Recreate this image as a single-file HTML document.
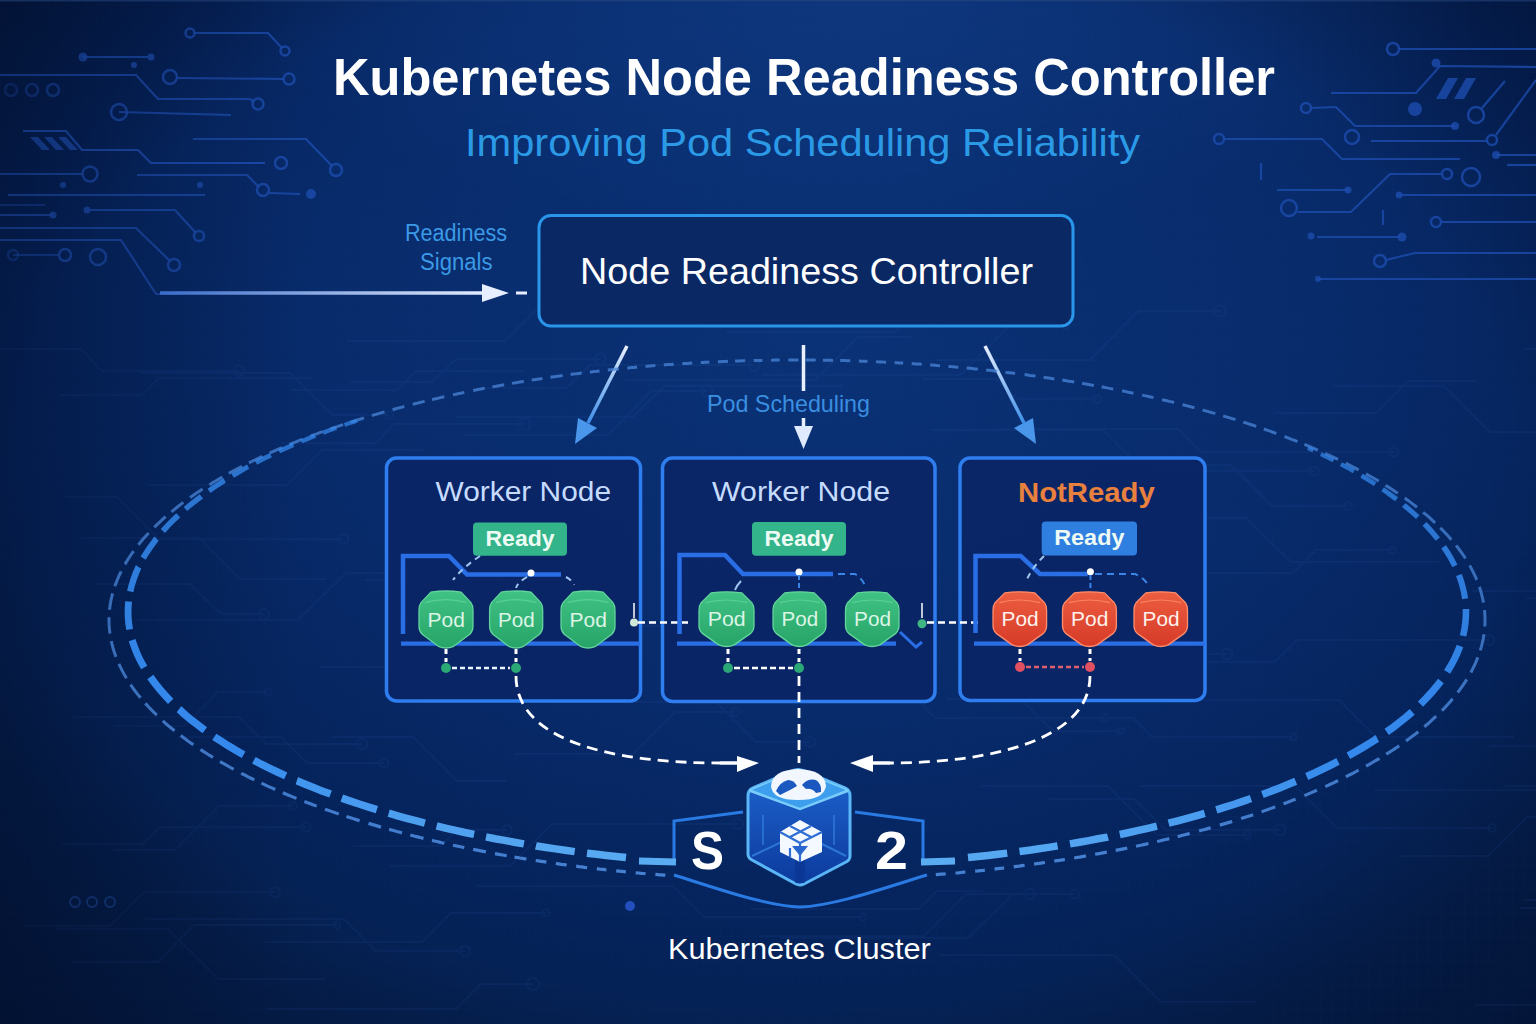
<!DOCTYPE html>
<html><head><meta charset="utf-8"><title>Kubernetes Node Readiness Controller</title>
<style>html,body{margin:0;padding:0;background:#02143a;overflow:hidden}svg{display:block}</style>
</head><body>
<svg width="1536" height="1024" viewBox="0 0 1536 1024"><defs>
<radialGradient id="bg" cx="0" cy="0" r="1" gradientUnits="userSpaceOnUse" gradientTransform="translate(820 330) scale(1000 760)">
  <stop offset="0" stop-color="#0a3276"/>
  <stop offset="0.5" stop-color="#082b6b"/>
  <stop offset="0.8" stop-color="#05235b"/>
  <stop offset="1" stop-color="#05204f"/>
</radialGradient>
<radialGradient id="vig" cx="0" cy="0" r="1" gradientUnits="userSpaceOnUse" gradientTransform="translate(768 480) scale(1150 820)">
  <stop offset="0.65" stop-color="#010a23" stop-opacity="0"/>
  <stop offset="0.85" stop-color="#010a23" stop-opacity="0.38"/>
  <stop offset="1" stop-color="#010a23" stop-opacity="0.6"/>
</radialGradient>
<linearGradient id="leftdark" x1="0" y1="0" x2="300" y2="0" gradientUnits="userSpaceOnUse">
  <stop offset="0" stop-color="#010a23" stop-opacity="0.3"/>
  <stop offset="1" stop-color="#010a23" stop-opacity="0"/>
</linearGradient>
<radialGradient id="topglow" cx="0" cy="0" r="1" gradientUnits="userSpaceOnUse" gradientTransform="translate(860 0) scale(620 230)">
  <stop offset="0" stop-color="#1f56b0" stop-opacity="0.25"/>
  <stop offset="1" stop-color="#1f56b0" stop-opacity="0"/>
</radialGradient>
<linearGradient id="arrowL" x1="0" y1="0" x2="0" y2="1">
  <stop offset="0" stop-color="#e8f0ff"/><stop offset="1" stop-color="#3d8ee8"/>
</linearGradient>
<linearGradient id="podG" x1="0" y1="0" x2="0" y2="1">
  <stop offset="0" stop-color="#40c284"/><stop offset="1" stop-color="#27a468"/>
</linearGradient>
<linearGradient id="podR" x1="0" y1="0" x2="0" y2="1">
  <stop offset="0" stop-color="#ec5e40"/><stop offset="1" stop-color="#d63a28"/>
</linearGradient>
<linearGradient id="sig" x1="160" y1="0" x2="490" y2="0" gradientUnits="userSpaceOnUse">
  <stop offset="0" stop-color="#3a6cc8"/><stop offset="1" stop-color="#e6eeff"/>
</linearGradient>
<linearGradient id="cubeG" x1="0" y1="0" x2="0" y2="1">
  <stop offset="0" stop-color="#1e64d0"/><stop offset="1" stop-color="#0c3a9c"/>
</linearGradient>
<filter id="glow" x="-20%" y="-20%" width="140%" height="140%"><feGaussianBlur stdDeviation="2.5"/></filter>
</defs>
<rect width="1536" height="1024" fill="url(#bg)"/>
<rect width="1536" height="1024" fill="url(#vig)"/>
<rect width="1536" height="260" fill="url(#topglow)"/>
<g fill="none" stroke="#3a70d0" stroke-width="2" opacity="0.08"><path d="M464,435 L608,435 L651,391 L707,391"/><circle cx="707" cy="391" r="5.7"/><path d="M291,390 L397,390 L416,371 L524,371"/><path d="M146,485 L287,485 L322,450 L425,450"/><path d="M24,926 L110,926 L144,892 L275,892"/><circle cx="275" cy="892" r="5.0"/><path d="M113,726 L184,726 L218,692 L268,692"/><circle cx="268" cy="692" r="3.6"/><path d="M1029,627 L1119,627 L1147,654 L1227,654"/><circle cx="1227" cy="654" r="5.3"/><path d="M80,538 L199,538 L240,579 L326,579"/><path d="M137,620 L298,620 L346,573 L454,573"/><path d="M73,717 L239,717 L266,744 L362,744"/><circle cx="362" cy="744" r="5.4"/><path d="M59,395 L142,395 L159,378 L312,378"/><path d="M1525,900 L1611,900 L1657,946 L1752,946"/><path d="M514,754 L633,754 L675,712 L735,712"/><circle cx="735" cy="712" r="4.2"/><path d="M1332,386 L1444,386 L1490,432 L1661,432"/><path d="M392,618 L489,618 L537,667 L602,667"/><circle cx="602" cy="667" r="3.7"/><path d="M320,667 L454,667 L479,691 L543,691"/><circle cx="543" cy="691" r="4.8"/><path d="M455,417 L633,417 L664,386 L843,386"/><path d="M1029,718 L1133,718 L1152,737 L1293,737"/><circle cx="1293" cy="737" r="3.2"/><path d="M281,443 L376,443 L394,424 L525,424"/><circle cx="525" cy="424" r="5.8"/><path d="M923,379 L997,379 L1017,399 L1097,399"/><circle cx="1097" cy="399" r="4.1"/><path d="M145,919 L344,919 L376,951 L465,951"/><circle cx="465" cy="951" r="5.2"/><path d="M1124,662 L1275,662 L1297,640 L1489,640"/><circle cx="1489" cy="640" r="5.1"/><path d="M1400,856 L1488,856 L1527,817 L1609,817"/><circle cx="1609" cy="817" r="3.5"/><path d="M1174,700 L1339,700 L1376,737 L1514,737"/><path d="M1153,465 L1231,465 L1272,506 L1348,506"/><circle cx="1348" cy="506" r="4.1"/><path d="M-4,349 L81,349 L102,371 L239,371"/><circle cx="239" cy="371" r="5.4"/><path d="M1097,573 L1293,573 L1316,550 L1392,550"/><circle cx="1392" cy="550" r="3.6"/><path d="M940,955 L1114,955 L1161,1002 L1256,1002"/><path d="M1274,413 L1376,413 L1408,381 L1476,381"/><path d="M477,886 L673,886 L704,917 L863,917"/><circle cx="863" cy="917" r="3.5"/><path d="M1525,349 L1660,349 L1703,392 L1766,392"/><path d="M1505,786 L1601,786 L1617,770 L1784,770"/><path d="M113,850 L175,850 L219,806 L293,806"/><circle cx="293" cy="806" r="3.9"/><path d="M331,737 L413,737 L457,781 L507,781"/><path d="M1374,790 L1544,790 L1588,834 L1769,834"/><circle cx="1769" cy="834" r="3.5"/><path d="M760,936 L924,936 L966,894 L1030,894"/><circle cx="1030" cy="894" r="4.9"/><path d="M141,373 L290,373 L332,415 L389,415"/><circle cx="389" cy="415" r="3.7"/><path d="M389,866 L510,866 L552,824 L738,824"/><circle cx="738" cy="824" r="4.8"/><path d="M752,685 L903,685 L935,718 L1105,718"/><circle cx="1105" cy="718" r="3.7"/><path d="M780,938 L968,938 L1013,894 L1075,894"/><circle cx="1075" cy="894" r="4.3"/><path d="M65,497 L117,497 L159,539 L343,539"/><circle cx="343" cy="539" r="5.1"/><path d="M997,429 L1178,429 L1201,452 L1394,452"/><circle cx="1394" cy="452" r="4.5"/><path d="M1520,908 L1586,908 L1636,958 L1740,958"/><circle cx="1740" cy="958" r="4.1"/><path d="M96,584 L190,584 L221,614 L264,614"/><circle cx="264" cy="614" r="4.9"/><path d="M762,375 L960,375 L1009,326 L1066,326"/><circle cx="1066" cy="326" r="3.1"/><path d="M1185,518 L1246,518 L1291,562 L1439,562"/><path d="M594,702 L716,702 L756,742 L810,742"/><circle cx="810" cy="742" r="5.1"/><path d="M625,380 L815,380 L858,337 L911,337"/><path d="M56,929 L168,929 L218,979 L325,979"/><path d="M936,360 L1090,360 L1138,311 L1220,311"/><circle cx="1220" cy="311" r="5.8"/><path d="M947,699 L1020,699 L1053,731 L1121,731"/><circle cx="1121" cy="731" r="3.1"/><path d="M347,341 L505,341 L538,308 L617,308"/><circle cx="617" cy="308" r="5.0"/><path d="M981,786 L1108,786 L1157,835 L1247,835"/><circle cx="1247" cy="835" r="3.7"/><path d="M265,942 L422,942 L451,913 L546,913"/><circle cx="546" cy="913" r="3.4"/><path d="M62,844 L143,844 L160,827 L306,827"/><circle cx="306" cy="827" r="4.5"/><path d="M1490,746 L1641,746 L1672,714 L1737,714"/><circle cx="1737" cy="714" r="3.8"/><path d="M1475,1005 L1603,1005 L1619,989 L1800,989"/><circle cx="1800" cy="989" r="3.5"/><path d="M482,388 L566,388 L590,365 L754,365"/><circle cx="754" cy="365" r="5.5"/><path d="M178,737 L281,737 L307,763 L384,763"/><circle cx="384" cy="763" r="4.6"/><path d="M1140,786 L1295,786 L1337,828 L1492,828"/><circle cx="1492" cy="828" r="3.9"/><path d="M931,430 L1103,430 L1144,471 L1314,471"/><circle cx="1314" cy="471" r="4.6"/><path d="M750,909 L919,909 L937,891 L983,891"/><path d="M1472,591 L1584,591 L1621,554 L1761,554"/><path d="M726,332 L894,332 L932,294 L982,294"/><path d="M350,382 L432,382 L456,359 L600,359"/><circle cx="600" cy="359" r="5.5"/><path d="M72,962 L158,962 L194,925 L337,925"/><circle cx="337" cy="925" r="3.4"/><path d="M353,846 L441,846 L457,830 L507,830"/><circle cx="507" cy="830" r="5.0"/><path d="M1048,799 L1134,799 L1166,830 L1280,830"/><circle cx="1280" cy="830" r="5.7"/><path d="M266,1009 L456,1009 L481,984 L533,984"/><circle cx="533" cy="984" r="6.0"/><path d="M1526,598 L1713,598 L1731,581 L1785,581"/><path d="M365,580 L502,580 L548,626 L700,626"/><circle cx="700" cy="626" r="5.7"/></g>
<defs><pattern id="grid" width="12" height="12" patternUnits="userSpaceOnUse"><path d="M12,0 L0,0 L0,12" fill="none" stroke="#4a80e0" stroke-width="0.6"/></pattern></defs>
<rect width="1536" height="1024" fill="url(#grid)" opacity="0.05"/>
<path d="M194,33 L268,33 L282,48" fill="none" stroke="#1d4cae" stroke-width="2.2" opacity="0.8"/>
<circle cx="190" cy="33" r="4.5" fill="none" stroke="#1d4cae" stroke-width="2.5" opacity="0.8"/>
<circle cx="285" cy="51" r="4.5" fill="none" stroke="#1d4cae" stroke-width="2.5" opacity="0.8"/>
<path d="M83,57 L148,57" fill="none" stroke="#1d4cae" stroke-width="2.2" opacity="0.8"/>
<circle cx="83" cy="57" r="4.5" fill="#1d4cae" opacity="0.8"/>
<circle cx="151" cy="57" r="3.5" fill="#1d4cae" opacity="0.8"/>
<path d="M0,75 L136,75 L158,99 L250,99 L254,102" fill="none" stroke="#1d4cae" stroke-width="2.2" opacity="0.8"/>
<circle cx="258" cy="104" r="5.5" fill="none" stroke="#1d4cae" stroke-width="2.5" opacity="0.8"/>
<path d="M176,78 L284,79" fill="none" stroke="#1d4cae" stroke-width="2.2" opacity="0.8"/>
<circle cx="170" cy="77" r="7" fill="none" stroke="#1d4cae" stroke-width="2.5" opacity="0.8"/>
<circle cx="289" cy="79" r="5.5" fill="none" stroke="#1d4cae" stroke-width="2.5" opacity="0.8"/>
<circle cx="11" cy="90" r="6" fill="none" stroke="#1d4cae" stroke-width="2.5" opacity="0.4"/>
<circle cx="32" cy="90" r="6" fill="none" stroke="#1d4cae" stroke-width="2.5" opacity="0.5"/>
<circle cx="53" cy="90" r="6" fill="none" stroke="#1d4cae" stroke-width="2.5" opacity="0.6"/>
<path d="M119,112 L231,115" fill="none" stroke="#1d4cae" stroke-width="2.2" opacity="0.8"/>
<circle cx="119" cy="112" r="8" fill="none" stroke="#1d4cae" stroke-width="2.5" opacity="0.8"/>
<path d="M23,131 L66,131 L82,150 L138,150 L151,163 L265,163" fill="none" stroke="#1d4cae" stroke-width="2.2" opacity="0.9"/>
<circle cx="281" cy="163" r="6" fill="none" stroke="#1d4cae" stroke-width="2.5" opacity="0.8"/>
<path d="M193,139 L306,139 L332,166" fill="none" stroke="#1d4cae" stroke-width="2.2" opacity="0.8"/>
<circle cx="336" cy="170" r="6" fill="none" stroke="#1d4cae" stroke-width="2.5" opacity="0.8"/>
<path d="M30,137 L38,137 L50,150 L42,150 Z" fill="#1d4cae" opacity="0.8"/>
<path d="M44,137 L52,137 L64,150 L56,150 Z" fill="#1d4cae" opacity="0.8"/>
<path d="M58,137 L66,137 L78,150 L70,150 Z" fill="#1d4cae" opacity="0.8"/>
<path d="M0,174 L82,174" fill="none" stroke="#1d4cae" stroke-width="2.2" opacity="0.8"/>
<circle cx="90" cy="174" r="7.5" fill="none" stroke="#1d4cae" stroke-width="2.5" opacity="0.8"/>
<path d="M137,175 L247,175 L259,187" fill="none" stroke="#1d4cae" stroke-width="2.2" opacity="0.8"/>
<circle cx="263" cy="190" r="6" fill="none" stroke="#1d4cae" stroke-width="2.5" opacity="0.8"/>
<path d="M269,193 L300,194" fill="none" stroke="#1d4cae" stroke-width="2.2" opacity="0.8"/>
<circle cx="311" cy="194" r="5" fill="#1d4cae" opacity="0.8"/>
<path d="M8,195 L205,195" fill="none" stroke="#1d4cae" stroke-width="2.2" opacity="0.8"/>
<path d="M0,205 L45,205" fill="none" stroke="#1d4cae" stroke-width="2.2" opacity="0.5"/>
<path d="M0,215 L53,215" fill="none" stroke="#1d4cae" stroke-width="2.2" opacity="0.8"/>
<circle cx="53" cy="215" r="3.5" fill="#1d4cae" opacity="0.8"/>
<path d="M87,210 L175,210 L196,233" fill="none" stroke="#1d4cae" stroke-width="2.2" opacity="0.8"/>
<circle cx="87" cy="210" r="3.5" fill="#1d4cae" opacity="0.8"/>
<circle cx="199" cy="236" r="5" fill="none" stroke="#1d4cae" stroke-width="2.5" opacity="0.8"/>
<path d="M0,228 L136,228 L170,261" fill="none" stroke="#1d4cae" stroke-width="2.2" opacity="0.8"/>
<circle cx="174" cy="265" r="6" fill="none" stroke="#1d4cae" stroke-width="2.5" opacity="0.8"/>
<path d="M0,240 L121,240 L156,294 L180,294" fill="none" stroke="#1d4cae" stroke-width="2.2" opacity="0.8"/>
<path d="M13,255 L59,255" fill="none" stroke="#1d4cae" stroke-width="2.2" opacity="0.6"/>
<circle cx="13" cy="255" r="5" fill="none" stroke="#1d4cae" stroke-width="2.5" opacity="0.5"/>
<circle cx="65" cy="255" r="6" fill="none" stroke="#1d4cae" stroke-width="2.5" opacity="0.8"/>
<circle cx="98" cy="257" r="8" fill="none" stroke="#1d4cae" stroke-width="2.5" opacity="0.8"/>
<circle cx="200" cy="185" r="3" fill="#1d4cae" opacity="0.8"/>
<circle cx="63" cy="185" r="3" fill="#1d4cae" opacity="0.8"/>
<circle cx="134" cy="65" r="3" fill="#1d4cae" opacity="0.8"/>
<path d="M1399,49 L1536,49" fill="none" stroke="#1d4cae" stroke-width="2.2" opacity="0.8"/>
<circle cx="1393" cy="49" r="6" fill="none" stroke="#1d4cae" stroke-width="2.5" opacity="0.8"/>
<path d="M1331,93 L1416,93 L1440,66 L1536,67" fill="none" stroke="#1d4cae" stroke-width="2.2" opacity="0.8"/>
<circle cx="1436" cy="63" r="4.5" fill="#1d4cae" opacity="0.8"/>
<path d="M1448,78 L1458,78 L1446,99 L1436,99 Z" fill="#1d4cae" opacity="0.8"/>
<path d="M1466,78 L1476,78 L1464,99 L1454,99 Z" fill="#1d4cae" opacity="0.8"/>
<circle cx="1415" cy="109" r="7" fill="#1d4cae" opacity="0.8"/>
<circle cx="1476" cy="115" r="8" fill="none" stroke="#1d4cae" stroke-width="2.5" opacity="0.8"/>
<path d="M1482,108 L1505,81" fill="none" stroke="#1d4cae" stroke-width="2.2" opacity="0.8"/>
<path d="M1311,108 L1336,107 L1355,126 L1455,126" fill="none" stroke="#1d4cae" stroke-width="2.2" opacity="0.8"/>
<circle cx="1306" cy="108" r="5" fill="none" stroke="#1d4cae" stroke-width="2.5" opacity="0.8"/>
<circle cx="1455" cy="126" r="4" fill="#1d4cae" opacity="0.8"/>
<circle cx="1352" cy="137" r="7" fill="none" stroke="#1d4cae" stroke-width="2.5" opacity="0.8"/>
<path d="M1371,141 L1487,141" fill="none" stroke="#1d4cae" stroke-width="2.2" opacity="0.8"/>
<circle cx="1492" cy="140" r="5" fill="none" stroke="#1d4cae" stroke-width="2.5" opacity="0.8"/>
<path d="M1496,135 L1536,80" fill="none" stroke="#1d4cae" stroke-width="2.2" opacity="0.8"/>
<path d="M1224,139 L1322,139 L1342,159 L1460,159" fill="none" stroke="#1d4cae" stroke-width="2.2" opacity="0.8"/>
<circle cx="1219" cy="139" r="5" fill="none" stroke="#1d4cae" stroke-width="2.5" opacity="0.8"/>
<path d="M1261,163 L1261,180" fill="none" stroke="#1d4cae" stroke-width="2.2" opacity="0.8"/>
<circle cx="1471" cy="177" r="9" fill="none" stroke="#1d4cae" stroke-width="2.5" opacity="0.8"/>
<path d="M1496,155 L1536,155" fill="none" stroke="#1d4cae" stroke-width="2.2" opacity="0.8"/>
<circle cx="1496" cy="155" r="4" fill="#1d4cae" opacity="0.8"/>
<path d="M1277,190 L1348,190" fill="none" stroke="#1d4cae" stroke-width="2.2" opacity="0.8"/>
<circle cx="1348" cy="190" r="3.5" fill="#1d4cae" opacity="0.8"/>
<path d="M1298,212 L1351,212 L1390,174 L1441,174" fill="none" stroke="#1d4cae" stroke-width="2.2" opacity="0.8"/>
<circle cx="1289" cy="208" r="8" fill="none" stroke="#1d4cae" stroke-width="2.5" opacity="0.8"/>
<circle cx="1447" cy="174" r="5" fill="none" stroke="#1d4cae" stroke-width="2.5" opacity="0.8"/>
<path d="M1399,195 L1536,195" fill="none" stroke="#1d4cae" stroke-width="2.2" opacity="0.8"/>
<circle cx="1399" cy="195" r="3.5" fill="#1d4cae" opacity="0.8"/>
<path d="M1383,210 L1383,225" fill="none" stroke="#1d4cae" stroke-width="2.2" opacity="0.8"/>
<path d="M1441,222 L1536,222" fill="none" stroke="#1d4cae" stroke-width="2.2" opacity="0.8"/>
<circle cx="1436" cy="222" r="5" fill="none" stroke="#1d4cae" stroke-width="2.5" opacity="0.8"/>
<path d="M1317,237 L1400,237" fill="none" stroke="#1d4cae" stroke-width="2.2" opacity="0.8"/>
<circle cx="1311" cy="236" r="3.5" fill="#1d4cae" opacity="0.8"/>
<circle cx="1402" cy="237" r="4.5" fill="#1d4cae" opacity="0.8"/>
<path d="M1386,260 L1415,253 L1536,253" fill="none" stroke="#1d4cae" stroke-width="2.2" opacity="0.8"/>
<circle cx="1380" cy="261" r="6" fill="none" stroke="#1d4cae" stroke-width="2.5" opacity="0.8"/>
<path d="M1318,279 L1536,279" fill="none" stroke="#1d4cae" stroke-width="2.2" opacity="0.8"/>
<circle cx="1318" cy="279" r="3" fill="#1d4cae" opacity="0.8"/>
<path d="M1507,165 L1536,165" fill="none" stroke="#1d4cae" stroke-width="2.2" opacity="0.8"/>
<rect width="300" height="1024" fill="url(#leftdark)"/>
<rect x="0" y="0" width="1536" height="1.5" fill="#2a4a80" opacity="0.5"/>
<circle cx="630" cy="906" r="5" fill="#2a5ad8" opacity="0.8"/>
<g fill="none" stroke="#2a58b8" stroke-width="2" opacity="0.35"><circle cx="75" cy="902" r="5"/><circle cx="92" cy="902" r="5"/><circle cx="110" cy="902" r="5"/></g>
<g style='font-family:"Liberation Sans",sans-serif'>
<text x="333" y="95" font-size="52" font-weight="bold" fill="#ffffff" textLength="942" lengthAdjust="spacingAndGlyphs" >Kubernetes Node Readiness Controller</text>
<text x="465" y="156" font-size="39" font-weight="normal" fill="#2b9ae6" textLength="675" lengthAdjust="spacingAndGlyphs" >Improving Pod Scheduling Reliability</text>
<text x="405" y="240.6" font-size="23" font-weight="normal" fill="#3b9ae6" textLength="102" lengthAdjust="spacingAndGlyphs" >Readiness</text>
<text x="420" y="269.8" font-size="23" font-weight="normal" fill="#3b9ae6" textLength="72.5" lengthAdjust="spacingAndGlyphs" >Signals</text>
</g>
<path d="M160,293 L488,293" stroke="url(#sig)" stroke-width="3.5" fill="none"/>
<path d="M482,284 L509,293 L482,302 Z" fill="#e6eeff"/>
<path d="M516,293 L527,293" stroke="#e6eeff" stroke-width="3"/>
<rect x="539" y="215.5" width="534" height="110.5" rx="12" fill="#0a2864" stroke="#2a96ea" stroke-width="3"/>
<g style='font-family:"Liberation Sans",sans-serif'>
<text x="580" y="284.4" font-size="37" font-weight="normal" fill="#ffffff" textLength="453" lengthAdjust="spacingAndGlyphs" >Node Readiness Controller</text>
<text x="707" y="411.6" font-size="24" font-weight="normal" fill="#3a8ee0" textLength="163" lengthAdjust="spacingAndGlyphs" >Pod Scheduling</text>
</g>
<path d="M627,346 L588,423" stroke="url(#arrowL)" stroke-width="3.5" fill="none"/>
<path d="M575,444 L578,418 L597,428 Z" fill="#4a96ea"/>
<path d="M985,346 L1024,423" stroke="url(#arrowL)" stroke-width="3.5" fill="none"/>
<path d="M1036,444 L1014,428 L1033,418 Z" fill="#4a96ea"/>
<path d="M803.5,345 L803.5,391" stroke="#e8f0ff" stroke-width="3.5"/>
<path d="M803.5,418 L803.5,428" stroke="#e8f0ff" stroke-width="3.5"/>
<path d="M794,426 L813,426 L803.5,449 Z" fill="#dfeaff"/>
<path d="M797.0,360.0 L795.6,360.0 L794.1,360.0 L792.7,360.0 L791.2,360.0 L789.8,360.0 L788.4,360.0 L788.4,360.0" fill="none" stroke="#4a86d8" stroke-width="3.0" opacity="0.75"/>
<path d="M779.7,360.1 L778.3,360.1 L776.8,360.1 L775.4,360.1 L773.9,360.1 L772.5,360.2 L771.1,360.2 L771.1,360.2" fill="none" stroke="#4a86d8" stroke-width="3.0" opacity="0.75"/>
<path d="M762.4,360.3 L761.0,360.4 L759.6,360.4 L758.1,360.4 L756.7,360.4 L755.2,360.5 L753.8,360.5 L753.8,360.5" fill="none" stroke="#4a86d8" stroke-width="3.0" opacity="0.75"/>
<path d="M745.2,360.7 L742.3,360.8 L739.4,360.9 L736.6,361.0 L735.1,361.1" fill="none" stroke="#4a86d8" stroke-width="3.0" opacity="0.75"/>
<path d="M728.0,361.3 L725.1,361.4 L722.2,361.5 L719.4,361.7 L717.9,361.7" fill="none" stroke="#4a86d8" stroke-width="3.0" opacity="0.75"/>
<path d="M709.3,362.1 L707.9,362.2 L706.5,362.3 L705.1,362.3 L703.6,362.4 L702.2,362.5 L700.8,362.6 L700.8,362.6" fill="none" stroke="#4a86d8" stroke-width="3.0" opacity="0.75"/>
<path d="M692.2,363.0 L689.4,363.2 L686.5,363.4 L683.7,363.6 L682.3,363.6" fill="none" stroke="#4a86d8" stroke-width="3.0" opacity="0.75"/>
<path d="M673.7,364.2 L670.9,364.4 L668.1,364.6 L665.3,364.8 L663.8,364.9" fill="none" stroke="#4a86d8" stroke-width="3.0" opacity="0.75"/>
<path d="M655.4,365.6 L652.5,365.8 L649.7,366.0 L646.9,366.3 L645.5,366.4" fill="none" stroke="#4a86d8" stroke-width="3.0" opacity="0.75"/>
<path d="M637.1,367.1 L634.3,367.4 L631.5,367.6 L628.7,367.9 L627.3,368.0" fill="none" stroke="#4a86d8" stroke-width="3.0" opacity="0.75"/>
<path d="M618.9,368.9 L616.2,369.1 L613.4,369.4 L610.6,369.7 L607.8,370.0 L607.8,370.0" fill="none" stroke="#4a86d8" stroke-width="3.0" opacity="0.75"/>
<path d="M599.5,370.9 L596.8,371.3 L594.0,371.6 L591.3,371.9 L589.9,372.1" fill="none" stroke="#4a86d8" stroke-width="3.0" opacity="0.75"/>
<path d="M581.7,373.1 L578.9,373.4 L576.2,373.8 L573.5,374.1 L570.7,374.5 L570.7,374.5" fill="none" stroke="#4a86d8" stroke-width="3.0" opacity="0.75"/>
<path d="M562.6,375.6 L559.9,375.9 L557.2,376.3 L554.5,376.7 L551.8,377.1 L550.4,377.3" fill="none" stroke="#4a86d8" stroke-width="3.0" opacity="0.75"/>
<path d="M542.4,378.5 L539.7,378.9 L537.0,379.3 L534.4,379.7 L531.7,380.1 L531.7,380.1" fill="none" stroke="#4a86d8" stroke-width="3.0" opacity="0.75"/>
<path d="M523.8,381.4 L521.1,381.8 L518.5,382.3 L515.8,382.7 L513.2,383.1 L511.9,383.4" fill="none" stroke="#4a86d8" stroke-width="3.0" opacity="0.75"/>
<path d="M504.1,384.7 L501.5,385.2 L498.9,385.7 L496.3,386.2 L493.7,386.6 L492.4,386.9" fill="none" stroke="#4a86d8" stroke-width="3.0" opacity="0.75"/>
<path d="M484.7,388.3 L482.1,388.8 L479.5,389.3 L477.0,389.8 L474.4,390.3 L473.2,390.6" fill="none" stroke="#4a86d8" stroke-width="3.0" opacity="0.75"/>
<path d="M464.3,392.4 L461.8,393.0 L459.3,393.5 L456.8,394.0 L454.2,394.6 L453.0,394.8" fill="none" stroke="#4a86d8" stroke-width="3.0" opacity="0.75"/>
<path d="M444.3,396.8 L441.8,397.3 L439.4,397.9 L436.9,398.5 L434.5,399.0 L432.0,399.6 L432.0,399.6" fill="none" stroke="#4a86d8" stroke-width="3.0" opacity="0.75"/>
<path d="M424.7,401.4 L422.3,401.9 L419.9,402.5 L417.5,403.1 L415.1,403.7 L412.7,404.3 L412.7,404.3" fill="none" stroke="#4a86d8" stroke-width="3.0" opacity="0.75"/>
<path d="M404.3,406.5 L402.0,407.1 L399.6,407.8 L397.3,408.4 L394.9,409.0 L392.6,409.7 L392.6,409.7" fill="none" stroke="#4a86d8" stroke-width="3.0" opacity="0.75"/>
<path d="M384.5,411.9 L381.0,412.9 L377.6,413.9 L374.2,414.9 L371.9,415.6" fill="none" stroke="#4a86d8" stroke-width="3.0" opacity="0.75"/>
<path d="M364.0,417.9 L360.7,419.0 L357.3,420.0 L354.0,421.1 L350.7,422.1 L350.7,422.1" fill="none" stroke="#4a86d8" stroke-width="3.0" opacity="0.75"/>
<path d="M343.1,424.6 L339.9,425.7 L336.6,426.8 L333.4,427.9 L330.2,429.0 L330.2,429.0" fill="none" stroke="#4a86d8" stroke-width="3.0" opacity="0.75"/>
<path d="M322.9,431.6 L319.8,432.7 L316.7,433.9 L313.6,435.0 L310.5,436.2 L310.5,436.2" fill="none" stroke="#4a86d8" stroke-width="3.0" opacity="0.75"/>
<path d="M302.4,439.3 L299.4,440.4 L296.5,441.6 L293.5,442.8 L290.6,444.0 L289.6,444.4" fill="none" stroke="#4a86d8" stroke-width="3.0" opacity="0.75"/>
<path d="M281.9,447.7 L279.0,448.9 L276.2,450.1 L273.4,451.4 L270.6,452.6 L269.7,453.0" fill="none" stroke="#4a86d8" stroke-width="3.0" opacity="0.75"/>
<path d="M262.3,456.4 L258.7,458.1 L255.1,459.8 L251.6,461.5 L249.0,462.8" fill="none" stroke="#4a86d8" stroke-width="3.0" opacity="0.75"/>
<path d="M242.1,466.3 L238.7,468.1 L235.4,469.8 L232.0,471.6 L228.8,473.4 L228.8,473.4" fill="none" stroke="#4a86d8" stroke-width="3.0" opacity="0.75"/>
<path d="M222.4,477.0 L219.2,478.9 L216.1,480.7 L213.0,482.5 L210.0,484.4 L209.3,484.8" fill="none" stroke="#4a86d8" stroke-width="3.0" opacity="0.75"/>
<path d="M202.6,489.1 L199.7,490.9 L196.9,492.8 L194.1,494.7 L191.3,496.7 L190.0,497.6" fill="none" stroke="#4a86d8" stroke-width="3.0" opacity="0.75"/>
<path d="M183.3,502.4 L180.1,504.9 L177.0,507.3 L173.9,509.8 L171.4,511.8" fill="none" stroke="#4a86d8" stroke-width="3.0" opacity="0.75"/>
<path d="M165.6,516.7 L162.8,519.2 L160.0,521.8 L157.3,524.3 L154.7,526.8 L154.2,527.3" fill="none" stroke="#4a86d8" stroke-width="3.0" opacity="0.75"/>
<path d="M148.7,533.0 L145.9,536.0 L143.1,539.1 L140.5,542.2 L138.4,544.9" fill="none" stroke="#4a86d8" stroke-width="3.0" opacity="0.75"/>
<path d="M133.6,551.1 L131.3,554.3 L129.2,557.5 L127.2,560.6 L125.3,563.8 L124.9,564.3" fill="none" stroke="#4a86d8" stroke-width="3.0" opacity="0.75"/>
<path d="M121.2,571.3 L119.4,575.0 L117.7,578.8 L116.2,582.6 L114.8,586.3 L114.8,586.3" fill="none" stroke="#4a86d8" stroke-width="3.0" opacity="0.75"/>
<path d="M112.6,593.4 L111.7,597.2 L110.8,601.0 L110.2,604.8 L109.7,608.6 L109.5,609.7" fill="none" stroke="#4a86d8" stroke-width="3.0" opacity="0.75"/>
<path d="M109.0,617.3 L109.0,621.1 L109.1,624.9 L109.4,628.7 L109.8,632.5 L109.9,633.6" fill="none" stroke="#4a86d8" stroke-width="3.0" opacity="0.75"/>
<path d="M111.3,641.2 L112.2,645.0 L113.2,648.8 L114.4,652.6 L115.8,656.4 L116.0,656.9" fill="none" stroke="#4a86d8" stroke-width="3.0" opacity="0.77"/>
<path d="M118.9,663.9 L120.7,667.6 L122.6,671.4 L124.6,675.1 L126.5,678.3" fill="none" stroke="#4a86d8" stroke-width="3.0" opacity="0.78"/>
<path d="M130.6,684.7 L132.8,687.8 L135.1,691.0 L137.5,694.1 L140.1,697.2 L140.5,697.8" fill="none" stroke="#4a86d8" stroke-width="3.0" opacity="0.80"/>
<path d="M145.4,703.4 L148.2,706.5 L151.2,709.6 L154.2,712.7 L156.8,715.2" fill="none" stroke="#4a86d8" stroke-width="3.1" opacity="0.81"/>
<path d="M162.8,720.8 L165.6,723.3 L168.5,725.8 L171.4,728.2 L174.5,730.7 L174.5,730.7" fill="none" stroke="#4a86d8" stroke-width="3.1" opacity="0.83"/>
<path d="M180.8,735.6 L184.0,738.0 L187.3,740.5 L190.7,742.9 L193.4,744.8" fill="none" stroke="#4a86d8" stroke-width="3.1" opacity="0.84"/>
<path d="M200.5,749.5 L203.3,751.4 L206.3,753.3 L209.3,755.2 L212.3,757.0 L213.0,757.5" fill="none" stroke="#4a86d8" stroke-width="3.1" opacity="0.85"/>
<path d="M220.0,761.6 L223.2,763.4 L226.4,765.2 L229.6,767.0 L232.9,768.8 L233.7,769.3" fill="none" stroke="#4a86d8" stroke-width="3.1" opacity="0.86"/>
<path d="M241.2,773.3 L244.7,775.0 L248.1,776.8 L251.6,778.5 L254.3,779.8" fill="none" stroke="#4a86d8" stroke-width="3.1" opacity="0.87"/>
<path d="M261.4,783.2 L265.1,784.9 L268.7,786.6 L272.4,788.2 L275.2,789.5" fill="none" stroke="#4a86d8" stroke-width="3.1" opacity="0.88"/>
<path d="M282.8,792.8 L285.7,794.0 L288.6,795.2 L291.5,796.4 L294.5,797.6 L296.5,798.4" fill="none" stroke="#4a86d8" stroke-width="3.1" opacity="0.88"/>
<path d="M304.4,801.5 L307.5,802.7 L310.5,803.8 L313.6,805.0 L316.7,806.1 L316.7,806.1" fill="none" stroke="#4a86d8" stroke-width="3.1" opacity="0.89"/>
<path d="M325.0,809.2 L328.1,810.3 L331.3,811.4 L334.5,812.5 L337.7,813.6 L338.8,813.9" fill="none" stroke="#4a86d8" stroke-width="3.1" opacity="0.90"/>
<path d="M346.4,816.5 L349.6,817.5 L352.9,818.6 L356.2,819.6 L359.6,820.7 L359.6,820.7" fill="none" stroke="#4a86d8" stroke-width="3.2" opacity="0.90"/>
<path d="M368.5,823.4 L371.9,824.4 L375.3,825.4 L378.7,826.4 L381.0,827.1" fill="none" stroke="#4a86d8" stroke-width="3.2" opacity="0.91"/>
<path d="M389.1,829.4 L392.6,830.3 L396.1,831.3 L399.6,832.2 L402.0,832.9" fill="none" stroke="#4a86d8" stroke-width="3.2" opacity="0.91"/>
<path d="M410.3,835.0 L413.9,836.0 L417.5,836.9 L421.1,837.8 L423.5,838.4" fill="none" stroke="#4a86d8" stroke-width="3.2" opacity="0.92"/>
<path d="M432.0,840.4 L434.5,841.0 L436.9,841.5 L439.4,842.1 L441.8,842.7 L444.3,843.2 L444.3,843.2" fill="none" stroke="#4a86d8" stroke-width="3.2" opacity="0.92"/>
<path d="M453.0,845.2 L455.5,845.7 L458.0,846.2 L460.5,846.8 L463.0,847.3 L464.3,847.6" fill="none" stroke="#4a86d8" stroke-width="3.2" opacity="0.92"/>
<path d="M473.2,849.4 L475.7,849.9 L478.3,850.4 L480.8,850.9 L483.4,851.4 L485.9,851.9 L485.9,851.9" fill="none" stroke="#4a86d8" stroke-width="3.2" opacity="0.93"/>
<path d="M495.0,853.6 L497.6,854.1 L500.2,854.6 L502.8,855.0 L505.4,855.5 L506.7,855.7" fill="none" stroke="#4a86d8" stroke-width="3.2" opacity="0.93"/>
<path d="M514.5,857.1 L517.2,857.5 L519.8,858.0 L522.4,858.4 L525.1,858.8 L526.4,859.0" fill="none" stroke="#4a86d8" stroke-width="3.2" opacity="0.93"/>
<path d="M535.7,860.5 L538.4,860.9 L541.1,861.3 L543.7,861.7 L546.4,862.1 L546.4,862.1" fill="none" stroke="#4a86d8" stroke-width="3.2" opacity="0.94"/>
<path d="M555.8,863.5 L558.5,863.9 L561.2,864.3 L563.9,864.6 L566.7,865.0 L566.7,865.0" fill="none" stroke="#4a86d8" stroke-width="3.2" opacity="0.94"/>
<path d="M576.2,866.2 L578.9,866.6 L581.7,866.9 L584.4,867.3 L587.1,867.6 L587.1,867.6" fill="none" stroke="#4a86d8" stroke-width="3.2" opacity="0.94"/>
<path d="M596.8,868.7 L599.5,869.1 L602.3,869.4 L605.1,869.7 L606.4,869.8" fill="none" stroke="#4a86d8" stroke-width="3.2" opacity="0.94"/>
<path d="M616.2,870.9 L618.9,871.1 L621.7,871.4 L624.5,871.7 L625.9,871.8" fill="none" stroke="#4a86d8" stroke-width="3.2" opacity="0.94"/>
<path d="M635.7,872.8 L638.5,873.0 L641.3,873.3 L644.1,873.5 L645.5,873.6" fill="none" stroke="#4a86d8" stroke-width="3.2" opacity="0.94"/>
<path d="M655.4,874.4 L658.2,874.7 L661.0,874.9 L663.8,875.1 L665.3,875.2" fill="none" stroke="#4a86d8" stroke-width="3.2" opacity="0.95"/>
<path d="M935.8,874.7 L938.6,874.4 L941.5,874.2 L944.3,874.0 L945.7,873.9" fill="none" stroke="#4a86d8" stroke-width="3.2" opacity="0.95"/>
<path d="M955.5,873.0 L958.3,872.8 L961.1,872.5 L963.9,872.2 L965.3,872.1" fill="none" stroke="#4a86d8" stroke-width="3.2" opacity="0.94"/>
<path d="M975.1,871.1 L977.8,870.9 L980.6,870.6 L983.4,870.3 L984.8,870.1" fill="none" stroke="#4a86d8" stroke-width="3.2" opacity="0.94"/>
<path d="M994.5,869.1 L997.2,868.7 L1000.0,868.4 L1002.7,868.1 L1004.1,867.9" fill="none" stroke="#4a86d8" stroke-width="3.2" opacity="0.94"/>
<path d="M1013.7,866.8 L1016.4,866.4 L1019.2,866.1 L1021.9,865.7 L1024.6,865.4 L1024.6,865.4" fill="none" stroke="#4a86d8" stroke-width="3.2" opacity="0.94"/>
<path d="M1034.1,864.1 L1036.8,863.7 L1039.5,863.3 L1042.2,862.9 L1044.9,862.5 L1044.9,862.5" fill="none" stroke="#4a86d8" stroke-width="3.2" opacity="0.94"/>
<path d="M1054.3,861.1 L1057.0,860.7 L1059.6,860.3 L1062.3,859.9 L1064.9,859.5 L1064.9,859.5" fill="none" stroke="#4a86d8" stroke-width="3.2" opacity="0.94"/>
<path d="M1074.2,858.0 L1076.8,857.5 L1079.5,857.1 L1082.1,856.6 L1084.7,856.2 L1086.0,855.9" fill="none" stroke="#4a86d8" stroke-width="3.2" opacity="0.93"/>
<path d="M1095.1,854.3 L1097.7,853.8 L1100.3,853.4 L1102.9,852.9 L1105.5,852.4 L1106.8,852.2" fill="none" stroke="#4a86d8" stroke-width="3.2" opacity="0.93"/>
<path d="M1115.7,850.4 L1118.3,849.9 L1120.8,849.4 L1123.4,848.9 L1125.9,848.4 L1127.2,848.1" fill="none" stroke="#4a86d8" stroke-width="3.2" opacity="0.93"/>
<path d="M1136.0,846.2 L1138.5,845.7 L1141.0,845.2 L1143.5,844.6 L1146.0,844.1 L1148.5,843.5 L1148.5,843.5" fill="none" stroke="#4a86d8" stroke-width="3.2" opacity="0.92"/>
<path d="M1157.1,841.5 L1159.5,841.0 L1162.0,840.4 L1164.4,839.8 L1166.9,839.2 L1169.3,838.6 L1169.3,838.6" fill="none" stroke="#4a86d8" stroke-width="3.2" opacity="0.92"/>
<path d="M1177.7,836.6 L1180.1,836.0 L1182.5,835.3 L1184.9,834.7 L1187.3,834.1 L1189.7,833.5 L1189.7,833.5" fill="none" stroke="#4a86d8" stroke-width="3.2" opacity="0.92"/>
<path d="M1199.1,831.0 L1201.4,830.3 L1203.7,829.7 L1206.0,829.1 L1208.4,828.4 L1210.7,827.8 L1210.7,827.8" fill="none" stroke="#4a86d8" stroke-width="3.2" opacity="0.91"/>
<path d="M1219.8,825.1 L1223.2,824.1 L1226.6,823.1 L1230.0,822.1 L1232.2,821.4" fill="none" stroke="#4a86d8" stroke-width="3.2" opacity="0.91"/>
<path d="M1241.1,818.6 L1244.4,817.5 L1247.6,816.5 L1250.9,815.4 L1253.1,814.7" fill="none" stroke="#4a86d8" stroke-width="3.2" opacity="0.90"/>
<path d="M1261.6,811.8 L1264.8,810.6 L1268.0,809.5 L1271.1,808.4 L1274.2,807.3 L1275.3,806.9" fill="none" stroke="#4a86d8" stroke-width="3.1" opacity="0.90"/>
<path d="M1283.5,803.8 L1286.5,802.7 L1289.6,801.5 L1292.6,800.3 L1295.6,799.2 L1295.6,799.2" fill="none" stroke="#4a86d8" stroke-width="3.1" opacity="0.89"/>
<path d="M1304.4,795.6 L1307.3,794.4 L1310.2,793.2 L1313.1,791.9 L1315.9,790.7 L1316.9,790.3" fill="none" stroke="#4a86d8" stroke-width="3.1" opacity="0.89"/>
<path d="M1325.3,786.6 L1328.0,785.3 L1330.8,784.0 L1333.5,782.8 L1336.2,781.5 L1338.0,780.6" fill="none" stroke="#4a86d8" stroke-width="3.1" opacity="0.88"/>
<path d="M1345.9,776.8 L1349.3,775.0 L1352.8,773.3 L1356.1,771.5 L1358.6,770.2" fill="none" stroke="#4a86d8" stroke-width="3.1" opacity="0.87"/>
<path d="M1366.0,766.1 L1369.3,764.3 L1372.4,762.5 L1375.6,760.7 L1378.7,758.9 L1379.4,758.4" fill="none" stroke="#4a86d8" stroke-width="3.1" opacity="0.86"/>
<path d="M1386.2,754.2 L1389.2,752.4 L1392.1,750.5 L1395.0,748.6 L1397.8,746.7 L1399.2,745.7" fill="none" stroke="#4a86d8" stroke-width="3.1" opacity="0.85"/>
<path d="M1406.0,740.9 L1409.4,738.5 L1412.6,736.1 L1415.8,733.7 L1418.3,731.7" fill="none" stroke="#4a86d8" stroke-width="3.1" opacity="0.84"/>
<path d="M1424.3,726.7 L1427.3,724.3 L1430.1,721.8 L1432.9,719.2 L1435.6,716.7 L1436.2,716.2" fill="none" stroke="#4a86d8" stroke-width="3.1" opacity="0.83"/>
<path d="M1441.9,710.6 L1444.8,707.6 L1447.7,704.5 L1450.4,701.4 L1452.6,698.8" fill="none" stroke="#4a86d8" stroke-width="3.1" opacity="0.82"/>
<path d="M1457.7,692.5 L1460.0,689.4 L1462.3,686.2 L1464.4,683.1 L1466.5,679.9 L1466.8,679.4" fill="none" stroke="#4a86d8" stroke-width="3.1" opacity="0.81"/>
<path d="M1470.9,672.5 L1472.8,668.7 L1474.6,665.0 L1476.3,661.2 L1477.8,657.4 L1477.8,657.4" fill="none" stroke="#4a86d8" stroke-width="3.0" opacity="0.79"/>
<path d="M1480.3,650.4 L1481.4,646.6 L1482.3,642.8 L1483.2,639.0 L1483.8,635.2 L1484.0,634.2" fill="none" stroke="#4a86d8" stroke-width="3.0" opacity="0.77"/>
<path d="M1484.8,626.5 L1485.0,622.7 L1485.0,618.9 L1484.9,615.1 L1484.6,611.3 L1484.5,610.2" fill="none" stroke="#4a86d8" stroke-width="3.0" opacity="0.76"/>
<path d="M1483.5,602.6 L1482.7,598.8 L1481.8,595.0 L1480.8,591.2 L1479.6,587.4 L1479.4,586.9" fill="none" stroke="#4a86d8" stroke-width="3.0" opacity="0.75"/>
<path d="M1476.8,579.9 L1475.1,576.1 L1473.3,572.4 L1471.4,568.6 L1469.7,565.4" fill="none" stroke="#4a86d8" stroke-width="3.0" opacity="0.75"/>
<path d="M1465.5,558.5 L1463.4,555.3 L1461.2,552.2 L1458.9,549.0 L1456.5,545.9 L1456.1,545.4" fill="none" stroke="#4a86d8" stroke-width="3.0" opacity="0.75"/>
<path d="M1451.3,539.7 L1448.6,536.6 L1445.8,533.5 L1442.8,530.4 L1440.3,527.8" fill="none" stroke="#4a86d8" stroke-width="3.0" opacity="0.75"/>
<path d="M1435.1,522.8 L1432.4,520.3 L1429.6,517.7 L1426.7,515.2 L1423.7,512.8 L1423.2,512.3" fill="none" stroke="#4a86d8" stroke-width="3.0" opacity="0.75"/>
<path d="M1417.0,507.3 L1413.9,504.9 L1410.7,502.4 L1407.4,500.0 L1404.7,498.1" fill="none" stroke="#4a86d8" stroke-width="3.0" opacity="0.75"/>
<path d="M1397.8,493.3 L1395.0,491.4 L1392.1,489.5 L1389.2,487.6 L1386.2,485.8 L1385.5,485.3" fill="none" stroke="#4a86d8" stroke-width="3.0" opacity="0.75"/>
<path d="M1378.7,481.1 L1375.6,479.3 L1372.4,477.5 L1369.3,475.7 L1366.0,473.9 L1366.0,473.9" fill="none" stroke="#4a86d8" stroke-width="3.0" opacity="0.75"/>
<path d="M1358.6,469.8 L1355.3,468.1 L1351.9,466.3 L1348.5,464.5 L1345.9,463.2" fill="none" stroke="#4a86d8" stroke-width="3.0" opacity="0.75"/>
<path d="M1338.0,459.4 L1335.3,458.1 L1332.6,456.8 L1329.9,455.5 L1327.1,454.3 L1325.3,453.4" fill="none" stroke="#4a86d8" stroke-width="3.0" opacity="0.75"/>
<path d="M1317.8,450.1 L1315.0,448.9 L1312.1,447.7 L1309.2,446.4 L1306.4,445.2 L1304.4,444.4" fill="none" stroke="#4a86d8" stroke-width="3.0" opacity="0.75"/>
<path d="M1297.5,441.6 L1294.6,440.4 L1291.6,439.3 L1288.6,438.1 L1285.5,436.9 L1284.5,436.5" fill="none" stroke="#4a86d8" stroke-width="3.0" opacity="0.75"/>
<path d="M1276.3,433.5 L1273.2,432.3 L1270.1,431.2 L1266.9,430.1 L1263.8,429.0 L1263.8,429.0" fill="none" stroke="#4a86d8" stroke-width="3.0" opacity="0.75"/>
<path d="M1256.3,426.4 L1253.1,425.3 L1249.8,424.3 L1246.6,423.2 L1243.3,422.1 L1243.3,422.1" fill="none" stroke="#4a86d8" stroke-width="3.0" opacity="0.75"/>
<path d="M1235.5,419.7 L1232.2,418.6 L1228.9,417.6 L1225.5,416.6 L1223.2,415.9" fill="none" stroke="#4a86d8" stroke-width="3.0" opacity="0.75"/>
<path d="M1215.3,413.6 L1211.8,412.6 L1208.4,411.6 L1204.9,410.6 L1202.6,410.0" fill="none" stroke="#4a86d8" stroke-width="3.0" opacity="0.75"/>
<path d="M1194.4,407.8 L1192.0,407.1 L1189.7,406.5 L1187.3,405.9 L1184.9,405.3 L1182.5,404.7 L1182.5,404.7" fill="none" stroke="#4a86d8" stroke-width="3.0" opacity="0.75"/>
<path d="M1174.1,402.5 L1171.7,401.9 L1169.3,401.4 L1166.9,400.8 L1164.4,400.2 L1162.0,399.6 L1162.0,399.6" fill="none" stroke="#4a86d8" stroke-width="3.0" opacity="0.75"/>
<path d="M1153.4,397.6 L1150.9,397.0 L1148.5,396.5 L1146.0,395.9 L1143.5,395.4 L1142.2,395.1" fill="none" stroke="#4a86d8" stroke-width="3.0" opacity="0.75"/>
<path d="M1133.5,393.2 L1131.0,392.7 L1128.4,392.2 L1125.9,391.6 L1123.4,391.1 L1122.1,390.9" fill="none" stroke="#4a86d8" stroke-width="3.0" opacity="0.75"/>
<path d="M1113.2,389.1 L1110.6,388.6 L1108.1,388.1 L1105.5,387.6 L1102.9,387.1 L1101.6,386.9" fill="none" stroke="#4a86d8" stroke-width="3.0" opacity="0.75"/>
<path d="M1093.8,385.4 L1091.2,385.0 L1088.6,384.5 L1086.0,384.1 L1083.4,383.6 L1082.1,383.4" fill="none" stroke="#4a86d8" stroke-width="3.0" opacity="0.75"/>
<path d="M1074.2,382.0 L1071.6,381.6 L1068.9,381.2 L1066.3,380.7 L1063.6,380.3 L1062.3,380.1" fill="none" stroke="#4a86d8" stroke-width="3.0" opacity="0.75"/>
<path d="M1054.3,378.9 L1051.6,378.5 L1048.9,378.1 L1046.2,377.7 L1043.6,377.3 L1043.6,377.3" fill="none" stroke="#4a86d8" stroke-width="3.0" opacity="0.75"/>
<path d="M1035.5,376.1 L1032.8,375.7 L1030.1,375.4 L1027.3,375.0 L1024.6,374.6 L1024.6,374.6" fill="none" stroke="#4a86d8" stroke-width="3.0" opacity="0.75"/>
<path d="M1015.1,373.4 L1012.3,373.1 L1009.6,372.7 L1006.9,372.4 L1005.5,372.2" fill="none" stroke="#4a86d8" stroke-width="3.0" opacity="0.75"/>
<path d="M997.2,371.3 L994.5,370.9 L991.7,370.6 L988.9,370.3 L986.2,370.0 L986.2,370.0" fill="none" stroke="#4a86d8" stroke-width="3.0" opacity="0.75"/>
<path d="M977.8,369.1 L975.1,368.9 L972.3,368.6 L969.5,368.3 L966.7,368.0 L966.7,368.0" fill="none" stroke="#4a86d8" stroke-width="3.0" opacity="0.75"/>
<path d="M958.3,367.2 L955.5,367.0 L952.7,366.7 L949.9,366.5 L948.5,366.4" fill="none" stroke="#4a86d8" stroke-width="3.0" opacity="0.75"/>
<path d="M940.0,365.7 L937.2,365.5 L934.4,365.2 L931.6,365.0 L930.2,364.9" fill="none" stroke="#4a86d8" stroke-width="3.0" opacity="0.75"/>
<path d="M921.7,364.3 L918.8,364.1 L916.0,363.9 L913.2,363.7 L911.7,363.6" fill="none" stroke="#4a86d8" stroke-width="3.0" opacity="0.75"/>
<path d="M903.2,363.1 L901.8,363.0 L900.4,363.0 L898.9,362.9 L897.5,362.8 L896.1,362.7 L894.7,362.6 L894.7,362.6" fill="none" stroke="#4a86d8" stroke-width="3.0" opacity="0.75"/>
<path d="M886.1,362.2 L883.2,362.1 L880.4,361.9 L877.5,361.8 L876.1,361.7" fill="none" stroke="#4a86d8" stroke-width="3.0" opacity="0.75"/>
<path d="M867.5,361.4 L866.0,361.3 L864.6,361.3 L863.2,361.2 L861.7,361.2 L860.3,361.1 L858.9,361.1 L858.9,361.1" fill="none" stroke="#4a86d8" stroke-width="3.0" opacity="0.75"/>
<path d="M850.3,360.8 L847.4,360.7 L844.5,360.6 L841.6,360.5 L840.2,360.5" fill="none" stroke="#4a86d8" stroke-width="3.0" opacity="0.75"/>
<path d="M833.0,360.4 L830.1,360.3 L827.3,360.3 L824.4,360.2 L822.9,360.2" fill="none" stroke="#4a86d8" stroke-width="3.0" opacity="0.75"/>
<path d="M815.7,360.1 L812.8,360.1 L810.0,360.0 L807.1,360.0 L805.6,360.0" fill="none" stroke="#4a86d8" stroke-width="3.0" opacity="0.75"/>
<path d="M798.4,360.0 L797.0,360.0 L797.0,360.0" fill="none" stroke="#4a86d8" stroke-width="3.0" opacity="0.75"/>
<path d="M626.0,857.6 L616.2,856.5 L606.4,855.5 L596.7,854.3 L587.0,853.2 L587.0,853.2" fill="none" stroke="#57a9f1" stroke-width="7.5" opacity="1.00"/>
<path d="M574.7,851.6 L565.1,850.3 L555.6,848.9 L546.1,847.5 L536.7,846.0 L535.9,845.8" fill="none" stroke="#55a7f1" stroke-width="7.5" opacity="1.00"/>
<path d="M523.9,843.9 L514.2,842.2 L504.6,840.4 L495.0,838.7 L486.0,836.9" fill="none" stroke="#53a5f0" stroke-width="7.5" opacity="1.00"/>
<path d="M474.1,834.4 L464.8,832.5 L455.6,830.4 L446.5,828.3 L437.4,826.2 L436.6,826.0" fill="none" stroke="#50a2f0" stroke-width="7.5" opacity="1.00"/>
<path d="M424.9,823.1 L415.7,820.7 L406.6,818.3 L397.6,815.8 L388.7,813.2 L388.7,813.2" fill="none" stroke="#4c9fef" stroke-width="7.5" opacity="1.00"/>
<path d="M376.9,809.7 L367.9,806.9 L359.1,804.0 L350.4,801.1 L341.8,798.1 L341.8,798.1" fill="none" stroke="#479aef" stroke-width="7.5" opacity="1.00"/>
<path d="M330.6,794.1 L322.0,790.9 L313.5,787.6 L305.2,784.2 L297.1,780.8 L296.8,780.7" fill="none" stroke="#4296ee" stroke-width="7.5" opacity="1.00"/>
<path d="M285.7,775.8 L277.4,772.0 L269.2,768.1 L261.3,764.2 L253.9,760.3" fill="none" stroke="#3c90ed" stroke-width="7.5" opacity="1.00"/>
<path d="M243.6,754.7 L235.8,750.3 L228.3,745.8 L221.1,741.2 L214.3,736.8" fill="none" stroke="#3589ec" stroke-width="7.5" opacity="1.00"/>
<path d="M204.8,730.2 L198.0,725.1 L191.4,720.0 L185.2,714.8 L179.3,709.5 L178.9,709.2" fill="none" stroke="#3488ec" stroke-width="7.5" opacity="1.00"/>
<path d="M170.7,701.3 L165.0,695.3 L159.6,689.2 L154.7,683.0 L150.3,677.0" fill="none" stroke="#3488ec" stroke-width="7.5" opacity="1.00"/>
<path d="M144.2,667.5 L140.4,660.7 L137.1,653.8 L134.4,646.9 L132.1,640.2" fill="none" stroke="#3488ec" stroke-width="7.1" opacity="0.97"/>
<path d="M129.6,629.6 L128.6,622.6 L128.1,615.6 L128.1,608.6 L128.6,601.6 L128.6,601.6" fill="none" stroke="#3488ec" stroke-width="6.8" opacity="0.94"/>
<path d="M130.2,591.4 L131.7,585.3 L133.6,579.3 L135.8,573.3 L138.4,567.3 L138.6,567.0" fill="none" stroke="#3488ec" stroke-width="6.4" opacity="0.90"/>
<path d="M143.2,558.1 L146.1,553.3 L149.3,548.5 L152.7,543.7 L156.3,538.9 L156.6,538.6" fill="none" stroke="#3488ec" stroke-width="6.0" opacity="0.87"/>
<path d="M162.9,531.0 L166.5,527.0 L170.3,523.1 L174.3,519.1 L178.3,515.4" fill="none" stroke="#3488ec" stroke-width="5.7" opacity="0.84"/>
<path d="M185.5,509.0 L189.3,505.8 L193.2,502.6 L197.2,499.5 L201.4,496.3 L201.4,496.3" fill="none" stroke="#3488ec" stroke-width="5.4" opacity="0.82"/>
<path d="M209.0,490.8 L212.8,488.2 L216.6,485.7 L220.5,483.1 L224.5,480.6 L224.7,480.5" fill="none" stroke="#3488ec" stroke-width="5.1" opacity="0.80"/>
<path d="M232.6,475.6 L236.3,473.5 L240.0,471.3 L243.8,469.2 L247.6,467.0 L248.2,466.7" fill="none" stroke="#3488ec" stroke-width="4.9" opacity="0.78"/>
<path d="M256.0,462.6 L259.8,460.6 L263.5,458.7 L267.4,456.8 L270.9,455.1" fill="none" stroke="#3488ec" stroke-width="4.7" opacity="0.76"/>
<path d="M279.1,451.2 L282.5,449.6 L285.9,448.1 L289.4,446.6 L292.9,445.0 L293.5,444.8" fill="none" stroke="#3488ec" stroke-width="4.5" opacity="0.75"/>
<path d="M301.5,441.3 L304.8,440.0 L308.1,438.6 L311.4,437.3 L314.8,436.0 L315.1,435.8" fill="none" stroke="#3488ec" stroke-width="4.4" opacity="0.73"/>
<path d="M323.2,432.7 L326.3,431.5 L329.4,430.3 L332.5,429.2 L335.7,428.0 L336.4,427.8" fill="none" stroke="#3488ec" stroke-width="4.2" opacity="0.72"/>
<path d="M344.5,424.9 L347.4,423.9 L350.3,422.9 L353.2,422.0 L356.1,421.0 L356.8,420.7" fill="none" stroke="#3488ec" stroke-width="4.1" opacity="0.71"/>
<path d="M968.0,857.6 L978.0,856.5 L987.9,855.4 L997.8,854.3 L1007.2,853.1" fill="none" stroke="#56a9f1" stroke-width="7.5" opacity="1.00"/>
<path d="M1019.5,851.5 L1029.2,850.2 L1038.9,848.8 L1048.5,847.4 L1057.6,845.9" fill="none" stroke="#54a7f1" stroke-width="7.5" opacity="1.00"/>
<path d="M1070.0,843.9 L1079.4,842.3 L1088.7,840.6 L1098.0,838.8 L1107.2,837.1 L1107.9,836.9" fill="none" stroke="#52a4f0" stroke-width="7.5" opacity="1.00"/>
<path d="M1119.8,834.5 L1129.2,832.5 L1138.5,830.4 L1147.8,828.3 L1156.9,826.1 L1156.9,826.1" fill="none" stroke="#4ea1f0" stroke-width="7.5" opacity="1.00"/>
<path d="M1168.6,823.2 L1177.8,820.8 L1187.0,818.4 L1196.1,815.9 L1204.7,813.4" fill="none" stroke="#4a9def" stroke-width="7.5" opacity="1.00"/>
<path d="M1216.3,809.9 L1225.0,807.2 L1233.6,804.5 L1242.0,801.6 L1250.4,798.8 L1251.0,798.6" fill="none" stroke="#4598ee" stroke-width="7.5" opacity="1.00"/>
<path d="M1262.4,794.4 L1271.1,791.2 L1279.6,787.9 L1287.9,784.6 L1295.7,781.3" fill="none" stroke="#3f93ed" stroke-width="7.5" opacity="1.00"/>
<path d="M1306.7,776.5 L1314.7,772.9 L1322.6,769.1 L1330.3,765.4 L1337.8,761.5 L1338.0,761.4" fill="none" stroke="#388cec" stroke-width="7.5" opacity="1.00"/>
<path d="M1348.4,755.8 L1355.9,751.6 L1363.2,747.3 L1370.3,742.9 L1377.1,738.5 L1377.3,738.4" fill="none" stroke="#3488ec" stroke-width="7.5" opacity="1.00"/>
<path d="M1386.7,731.9 L1393.6,727.0 L1400.1,721.9 L1406.4,716.8 L1412.2,711.8" fill="none" stroke="#3488ec" stroke-width="7.5" opacity="1.00"/>
<path d="M1420.5,704.1 L1426.2,698.3 L1431.5,692.5 L1436.4,686.7 L1440.9,681.0" fill="none" stroke="#3488ec" stroke-width="7.3" opacity="0.98"/>
<path d="M1447.1,671.9 L1451.0,665.4 L1454.5,658.9 L1457.5,652.3 L1460.0,645.9" fill="none" stroke="#3488ec" stroke-width="7.0" opacity="0.95"/>
<path d="M1463.1,635.8 L1464.5,629.1 L1465.4,622.5 L1465.9,615.8 L1466.0,609.2 L1466.0,609.0" fill="none" stroke="#3488ec" stroke-width="6.6" opacity="0.92"/>
<path d="M1465.1,598.8 L1464.1,592.8 L1462.7,586.9 L1461.0,581.0 L1458.9,575.0 L1458.9,575.0" fill="none" stroke="#3488ec" stroke-width="6.1" opacity="0.88"/>
<path d="M1454.9,566.0 L1452.4,561.1 L1449.7,556.3 L1446.7,551.4 L1443.6,546.8" fill="none" stroke="#3488ec" stroke-width="5.7" opacity="0.85"/>
<path d="M1437.9,539.1 L1434.8,535.4 L1431.6,531.6 L1428.3,527.9 L1424.8,524.2 L1424.5,523.9" fill="none" stroke="#3488ec" stroke-width="5.4" opacity="0.82"/>
<path d="M1417.7,517.2 L1414.4,514.2 L1411.1,511.2 L1407.7,508.3 L1404.1,505.3 L1403.8,505.0" fill="none" stroke="#3488ec" stroke-width="5.1" opacity="0.79"/>
<path d="M1396.6,499.3 L1393.1,496.7 L1389.6,494.2 L1386.1,491.6 L1382.6,489.2" fill="none" stroke="#3488ec" stroke-width="4.8" opacity="0.77"/>
<path d="M1375.1,484.2 L1371.9,482.1 L1368.7,480.1 L1365.4,478.0 L1362.0,476.0 L1361.5,475.7" fill="none" stroke="#3488ec" stroke-width="4.6" opacity="0.75"/>
<path d="M1353.9,471.3 L1350.7,469.4 L1347.4,467.6 L1344.0,465.8 L1340.9,464.1" fill="none" stroke="#3488ec" stroke-width="4.4" opacity="0.73"/>
<path d="M1333.5,460.3 L1330.5,458.8 L1327.5,457.3 L1324.5,455.8 L1321.5,454.3 L1320.9,454.0" fill="none" stroke="#3488ec" stroke-width="4.2" opacity="0.72"/>
<path d="M1313.3,450.5 L1311.9,449.8 L1310.4,449.2 L1309.0,448.5 L1307.8,448.0" fill="none" stroke="#3488ec" stroke-width="4.0" opacity="0.70"/>
<rect x="386.5" y="458.0" width="254" height="243.0" rx="10" fill="#0a2465" fill-opacity="0.85" stroke="#2f7ef0" stroke-width="3.5"/>
<rect x="662.5" y="458.0" width="272.5" height="243.5" rx="10" fill="#0a2465" fill-opacity="0.85" stroke="#2f7ef0" stroke-width="3.5"/>
<rect x="960.0" y="458.0" width="245.0" height="242.5" rx="10" fill="#0a2465" fill-opacity="0.85" stroke="#2f7ef0" stroke-width="3.5"/>
<g style='font-family:"Liberation Sans",sans-serif'>
<text x="435.6" y="500.7" font-size="27" font-weight="normal" fill="#c6dcff" textLength="175.39999999999998" lengthAdjust="spacingAndGlyphs" >Worker Node</text>
<text x="712" y="500.7" font-size="27" font-weight="normal" fill="#c6dcff" textLength="178" lengthAdjust="spacingAndGlyphs" >Worker Node</text>
<text x="1018" y="501.5" font-size="27" font-weight="bold" fill="#e8803e" textLength="136.70000000000005" lengthAdjust="spacingAndGlyphs" >NotReady</text>
</g>
<rect x="473" y="522.5" width="94" height="33.200000000000045" rx="4" fill="#33b48a"/>
<text x="485.5" y="546.0" font-family="Liberation Sans" font-weight="bold" font-size="22.5" fill="#eefbf4" textLength="69" lengthAdjust="spacingAndGlyphs">Ready</text>
<rect x="752" y="522" width="94" height="33.700000000000045" rx="4" fill="#33b48a"/>
<text x="764.5" y="545.5" font-family="Liberation Sans" font-weight="bold" font-size="22.5" fill="#eefbf4" textLength="69" lengthAdjust="spacingAndGlyphs">Ready</text>
<rect x="1041.7" y="521.5" width="95.29999999999995" height="33.89999999999998" rx="4" fill="#2f7fe0"/>
<text x="1054.2" y="545.0" font-family="Liberation Sans" font-weight="bold" font-size="22.5" fill="#eefbf4" textLength="70.29999999999995" lengthAdjust="spacingAndGlyphs">Ready</text>
<path d="M403,634 L403,556 L449,556 L467,574.5 L561,574.5" fill="none" stroke="#2a6ee6" stroke-width="4.5"/>
<path d="M401,643.7 L640,643.7" stroke="#2a6ee6" stroke-width="4.2"/>
<circle cx="531" cy="573" r="3.5" fill="#fff"/>
<path d="M480,556 Q462,568 453,580" fill="none" stroke="#9ec6f0" stroke-width="2" stroke-dasharray="6 5"/>
<path d="M527,577 Q518,582 516,588" fill="none" stroke="#9ec6f0" stroke-width="2" stroke-dasharray="6 5"/>
<path d="M566,577 Q572,580 574,585" fill="none" stroke="#9ec6f0" stroke-width="2" stroke-dasharray="6 5"/>
<path d="M430.9,592.1 Q446.0,589.9 461.1,592.1 L470.8,602.4 Q473.0,605.2 473.0,610.4 L473.0,626.3 Q473.0,630.9 469.8,634.3 L453.6,646.3 Q446.0,649.7 438.4,646.3 L422.2,634.3 Q419.0,630.9 419.0,626.3 L419.0,610.4 Q419.0,605.2 421.2,602.4 Z" fill="url(#podG)" stroke="#62d49c" stroke-width="1.3" stroke-linejoin="round"/>
<path d="M425.5,602.4 Q446.0,596.7 466.5,602.4" fill="none" stroke="#62d49c" stroke-width="1.2" opacity="0.8"/>
<text x="427.6" y="626.6" font-family="Liberation Sans" font-size="21" fill="#dcf5e6" textLength="37.3" lengthAdjust="spacingAndGlyphs">Pod</text>
<path d="M501.3,592.1 Q516.2,589.9 531.0,592.1 L540.6,602.4 Q542.7,605.2 542.7,610.4 L542.7,626.3 Q542.7,630.9 539.5,634.3 L523.6,646.3 Q516.2,649.7 508.7,646.3 L492.8,634.3 Q489.6,630.9 489.6,626.3 L489.6,610.4 Q489.6,605.2 491.7,602.4 Z" fill="url(#podG)" stroke="#62d49c" stroke-width="1.3" stroke-linejoin="round"/>
<path d="M496.0,602.4 Q516.2,596.7 536.3,602.4" fill="none" stroke="#62d49c" stroke-width="1.2" opacity="0.8"/>
<text x="498.1" y="626.6" font-family="Liberation Sans" font-size="21" fill="#dcf5e6" textLength="36.6" lengthAdjust="spacingAndGlyphs">Pod</text>
<path d="M572.9,592.1 Q588.0,589.9 603.1,592.1 L612.8,602.4 Q615.0,605.2 615.0,610.4 L615.0,626.3 Q615.0,630.9 611.8,634.3 L595.6,646.3 Q588.0,649.7 580.4,646.3 L564.2,634.3 Q561.0,630.9 561.0,626.3 L561.0,610.4 Q561.0,605.2 563.2,602.4 Z" fill="url(#podG)" stroke="#62d49c" stroke-width="1.3" stroke-linejoin="round"/>
<path d="M567.5,602.4 Q588.0,596.7 608.5,602.4" fill="none" stroke="#62d49c" stroke-width="1.2" opacity="0.8"/>
<text x="569.6" y="626.6" font-family="Liberation Sans" font-size="21" fill="#dcf5e6" textLength="37.3" lengthAdjust="spacingAndGlyphs">Pod</text>
<path d="M446,649 L446,662 M516,649 L516,662" stroke="#fff" stroke-width="3" stroke-dasharray="5 4"/>
<path d="M452,668 L510,668" stroke="#e8f4ff" stroke-width="2.5" stroke-dasharray="5 3"/>
<circle cx="446" cy="668" r="5" fill="#2aa876"/><circle cx="516" cy="668" r="5" fill="#2aa876"/>
<path d="M634,603 L634,618" stroke="#fff" stroke-width="1.5"/>
<circle cx="634" cy="622.6" r="4" fill="#cfe8d8"/>
<path d="M638,622.6 L688,622.6" stroke="#fff" stroke-width="2.5" stroke-dasharray="7 4"/>
<path d="M679.5,634 L679.5,555 L725,555 L743,574 L833,574" fill="none" stroke="#2a6ee6" stroke-width="4.5"/>
<path d="M838,574 L855,574 Q862,578 865,586" fill="none" stroke="#3a86e6" stroke-width="2" stroke-dasharray="7 5"/>
<path d="M677,643.7 L896,643.7" fill="none" stroke="#2a6ee6" stroke-width="4.2"/>
<path d="M900,632 L916,647 L922,642" fill="none" stroke="#2a6ee6" stroke-width="3"/>
<circle cx="799" cy="572" r="3.5" fill="#fff"/>
<path d="M799,575 L799,589" stroke="#3a86e6" stroke-width="2" stroke-dasharray="5 3"/>
<path d="M741,581 Q737,585 735,590" fill="none" stroke="#9ec6f0" stroke-width="2"/>
<path d="M711.1,592.9 Q726.5,590.7 741.9,592.9 L751.8,602.7 Q754.0,605.5 754.0,610.4 L754.0,625.7 Q754.0,630.1 750.7,633.4 L734.2,644.9 Q726.5,648.1 718.8,644.9 L702.3,633.4 Q699.0,630.1 699.0,625.7 L699.0,610.4 Q699.0,605.5 701.2,602.7 Z" fill="url(#podG)" stroke="#62d49c" stroke-width="1.3" stroke-linejoin="round"/>
<path d="M705.6,602.7 Q726.5,597.3 747.4,602.7" fill="none" stroke="#62d49c" stroke-width="1.2" opacity="0.8"/>
<text x="707.8" y="626.0" font-family="Liberation Sans" font-size="21" fill="#dcf5e6" textLength="37.9" lengthAdjust="spacingAndGlyphs">Pod</text>
<path d="M784.7,592.9 Q799.5,590.7 814.3,592.9 L823.9,602.7 Q826.0,605.5 826.0,610.4 L826.0,625.7 Q826.0,630.1 822.8,633.4 L806.9,644.9 Q799.5,648.1 792.1,644.9 L776.2,633.4 Q773.0,630.1 773.0,625.7 L773.0,610.4 Q773.0,605.5 775.1,602.7 Z" fill="url(#podG)" stroke="#62d49c" stroke-width="1.3" stroke-linejoin="round"/>
<path d="M779.4,602.7 Q799.5,597.3 819.6,602.7" fill="none" stroke="#62d49c" stroke-width="1.2" opacity="0.8"/>
<text x="781.5" y="626.0" font-family="Liberation Sans" font-size="21" fill="#dcf5e6" textLength="36.6" lengthAdjust="spacingAndGlyphs">Pod</text>
<path d="M857.3,592.9 Q872.2,590.7 887.2,592.9 L896.9,602.7 Q899.0,605.5 899.0,610.4 L899.0,625.7 Q899.0,630.1 895.8,633.4 L879.7,644.9 Q872.2,648.1 864.8,644.9 L848.7,633.4 Q845.5,630.1 845.5,625.7 L845.5,610.4 Q845.5,605.5 847.6,602.7 Z" fill="url(#podG)" stroke="#62d49c" stroke-width="1.3" stroke-linejoin="round"/>
<path d="M851.9,602.7 Q872.2,597.3 892.6,602.7" fill="none" stroke="#62d49c" stroke-width="1.2" opacity="0.8"/>
<text x="854.1" y="626.0" font-family="Liberation Sans" font-size="21" fill="#dcf5e6" textLength="36.9" lengthAdjust="spacingAndGlyphs">Pod</text>
<path d="M728,649 L728,662 M799,649 L799,662" stroke="#fff" stroke-width="3" stroke-dasharray="5 4"/>
<path d="M734,668 L793,668" stroke="#fff" stroke-width="2.5" stroke-dasharray="6 3"/>
<circle cx="728" cy="668" r="5" fill="#2aa876"/><circle cx="799" cy="668" r="5" fill="#2aa876"/>
<path d="M922,603 L922,618" stroke="#fff" stroke-width="1.5"/>
<circle cx="922" cy="623.7" r="4.5" fill="#3fb684"/>
<path d="M927,622.6 L980,622.6" stroke="#fff" stroke-width="2.5" stroke-dasharray="7 4"/>
<path d="M975.5,633 L975.5,556 L1020.7,556 L1040,574 L1087.7,574" fill="none" stroke="#2a6ee6" stroke-width="4.5"/>
<path d="M1095,574 L1135,574 Q1145,578 1149,587" fill="none" stroke="#3a86e6" stroke-width="2" stroke-dasharray="7 5"/>
<path d="M974,643.7 L1205,643.7" stroke="#2a6ee6" stroke-width="4.2"/>
<circle cx="1090.4" cy="571.8" r="3.5" fill="#fff"/>
<path d="M1090.4,575 L1090.4,589" stroke="#3a86e6" stroke-width="2" stroke-dasharray="5 3"/>
<path d="M1044,556 Q1030,570 1026,582" fill="none" stroke="#9ec6f0" stroke-width="2" stroke-dasharray="6 5"/>
<path d="M1004.8,592.9 Q1019.8,590.7 1034.8,592.9 L1044.5,602.7 Q1046.6,605.5 1046.6,610.4 L1046.6,625.7 Q1046.6,630.1 1043.4,633.4 L1027.3,644.9 Q1019.8,648.1 1012.3,644.9 L996.2,633.4 Q993.0,630.1 993.0,625.7 L993.0,610.4 Q993.0,605.5 995.1,602.7 Z" fill="url(#podR)" stroke="#ff8c6c" stroke-width="1.3" stroke-linejoin="round"/>
<path d="M999.4,602.7 Q1019.8,597.3 1040.2,602.7" fill="none" stroke="#ff8c6c" stroke-width="1.2" opacity="0.8"/>
<text x="1001.6" y="626.0" font-family="Liberation Sans" font-size="21" fill="#fff2ee" textLength="37.0" lengthAdjust="spacingAndGlyphs">Pod</text>
<path d="M1074.4,592.9 Q1089.5,590.7 1104.5,592.9 L1114.2,602.7 Q1116.4,605.5 1116.4,610.4 L1116.4,625.7 Q1116.4,630.1 1113.2,633.4 L1097.0,644.9 Q1089.5,648.1 1081.9,644.9 L1065.7,633.4 Q1062.5,630.1 1062.5,625.7 L1062.5,610.4 Q1062.5,605.5 1064.7,602.7 Z" fill="url(#podR)" stroke="#ff8c6c" stroke-width="1.3" stroke-linejoin="round"/>
<path d="M1069.0,602.7 Q1089.5,597.3 1109.9,602.7" fill="none" stroke="#ff8c6c" stroke-width="1.2" opacity="0.8"/>
<text x="1071.1" y="626.0" font-family="Liberation Sans" font-size="21" fill="#fff2ee" textLength="37.2" lengthAdjust="spacingAndGlyphs">Pod</text>
<path d="M1145.8,592.9 Q1160.8,590.7 1175.7,592.9 L1185.4,602.7 Q1187.5,605.5 1187.5,610.4 L1187.5,625.7 Q1187.5,630.1 1184.3,633.4 L1168.2,644.9 Q1160.8,648.1 1153.3,644.9 L1137.2,633.4 Q1134.0,630.1 1134.0,625.7 L1134.0,610.4 Q1134.0,605.5 1136.1,602.7 Z" fill="url(#podR)" stroke="#ff8c6c" stroke-width="1.3" stroke-linejoin="round"/>
<path d="M1140.4,602.7 Q1160.8,597.3 1181.1,602.7" fill="none" stroke="#ff8c6c" stroke-width="1.2" opacity="0.8"/>
<text x="1142.6" y="626.0" font-family="Liberation Sans" font-size="21" fill="#fff2ee" textLength="36.9" lengthAdjust="spacingAndGlyphs">Pod</text>
<path d="M1020,649 L1020,661 M1090,649 L1090,661" stroke="#fff" stroke-width="3" stroke-dasharray="5 4"/>
<path d="M1026,667 L1084,667" stroke="#e06070" stroke-width="2.5" stroke-dasharray="5 3"/>
<circle cx="1020" cy="667" r="5" fill="#e05060"/><circle cx="1090" cy="667" r="5" fill="#e05060"/>
<path d="M516,676 C516,740 610,763 720,763" fill="none" stroke="#fff" stroke-width="2.8" stroke-dasharray="11 7"/>
<path d="M720,763 L740,763" stroke="#fff" stroke-width="3.5"/>
<path d="M737,756 L759,763 L737,772 Z" fill="#fff"/>
<path d="M1090,676 C1090,740 990,763 890,763" fill="none" stroke="#fff" stroke-width="2.8" stroke-dasharray="11 7"/>
<path d="M872,763 L890,763" stroke="#fff" stroke-width="3.5"/>
<path d="M873,755 L850,763 L873,772 Z" fill="#fff"/>
<path d="M799,676 L799,763" stroke="#fff" stroke-width="2.8" stroke-dasharray="10 6"/>
<path d="M674,862 L674,821 L743,812" fill="none" stroke="#2a7ae4" stroke-width="3"/>
<path d="M855,812 L923,821 L923,862" fill="none" stroke="#2a7ae4" stroke-width="3"/>
<path d="M639,861 L676,862" stroke="#5aacf2" stroke-width="7"/>
<path d="M921,862 L955,861" stroke="#5aacf2" stroke-width="7"/>
<path d="M674,875 C710,886 765,906 800,907 C835,906 890,886 927,875" fill="none" stroke="#2a7ae4" stroke-width="3"/>
<path d="M792,771 Q798,768 804,771 L845,788 Q850,790 850,796 L850,856 Q850,860 846,862 L804,884 Q800,886 796,884 L752,860 Q748,858 748,854 L748,796 Q748,790 753,788 Z" fill="url(#cubeG)" stroke="#5ab6f6" stroke-width="3" stroke-linejoin="round"/>
<path d="M798,770 L848,790 L800,809 L750,790 Z" fill="#3e9eee" stroke="#78ccfa" stroke-width="1.5" stroke-linejoin="round"/>
<path d="M750,791 L800,809 L848,791" fill="none" stroke="#7accfa" stroke-width="2.2"/>
<path d="M763,815 L763,845 M834,815 L834,845" stroke="#3a8ae8" stroke-width="1.5" opacity="0.7"/>
<path d="M752,856 L790,838 M846,856 L810,838" stroke="#3a8ae8" stroke-width="2" opacity="0.7"/>
<path d="M800,850 L800,883" stroke="#0a3490" stroke-width="10" opacity="0.6"/>
<path d="M771,786 Q772,770 798,769 Q825,770 826,786 Q824,800 798,800 Q772,800 771,786 Z" fill="#f2f7ff"/>
<path d="M776,791 Q780,782 788,780 Q794,780 797,786 L790,790 Q784,793 780,795 Z" fill="#1a58c0"/>
<path d="M802,785 Q808,778 816,780 Q822,784 821,792 L816,793 Q812,788 806,789 Z" fill="#1a58c0"/>
<path d="M800,820 L822,832 L822,852 L800,862 L780,852 L780,832 Z" fill="#f4f8ff"/>
<path d="M780,832 L800,843 L822,832 M800,843 L800,862 M790,826 L811,837 M811,826 L790,837 M790,848 L790,857" fill="none" stroke="#2f6ed4" stroke-width="2.2"/>
<path d="M792,846 L800,856 L808,846 Z" fill="#2a66cc"/>
<g style='font-family:"Liberation Sans",sans-serif'>
<text x="691" y="868.5" font-size="53" font-weight="bold" fill="#ffffff" textLength="33" lengthAdjust="spacingAndGlyphs" >S</text>
<text x="875" y="868.5" font-size="53" font-weight="bold" fill="#ffffff" textLength="33" lengthAdjust="spacingAndGlyphs" >2</text>
<text x="668" y="959" font-size="29" font-weight="normal" fill="#ffffff" textLength="262.70000000000005" lengthAdjust="spacingAndGlyphs" >Kubernetes Cluster</text>
</g></svg>
</body></html>
